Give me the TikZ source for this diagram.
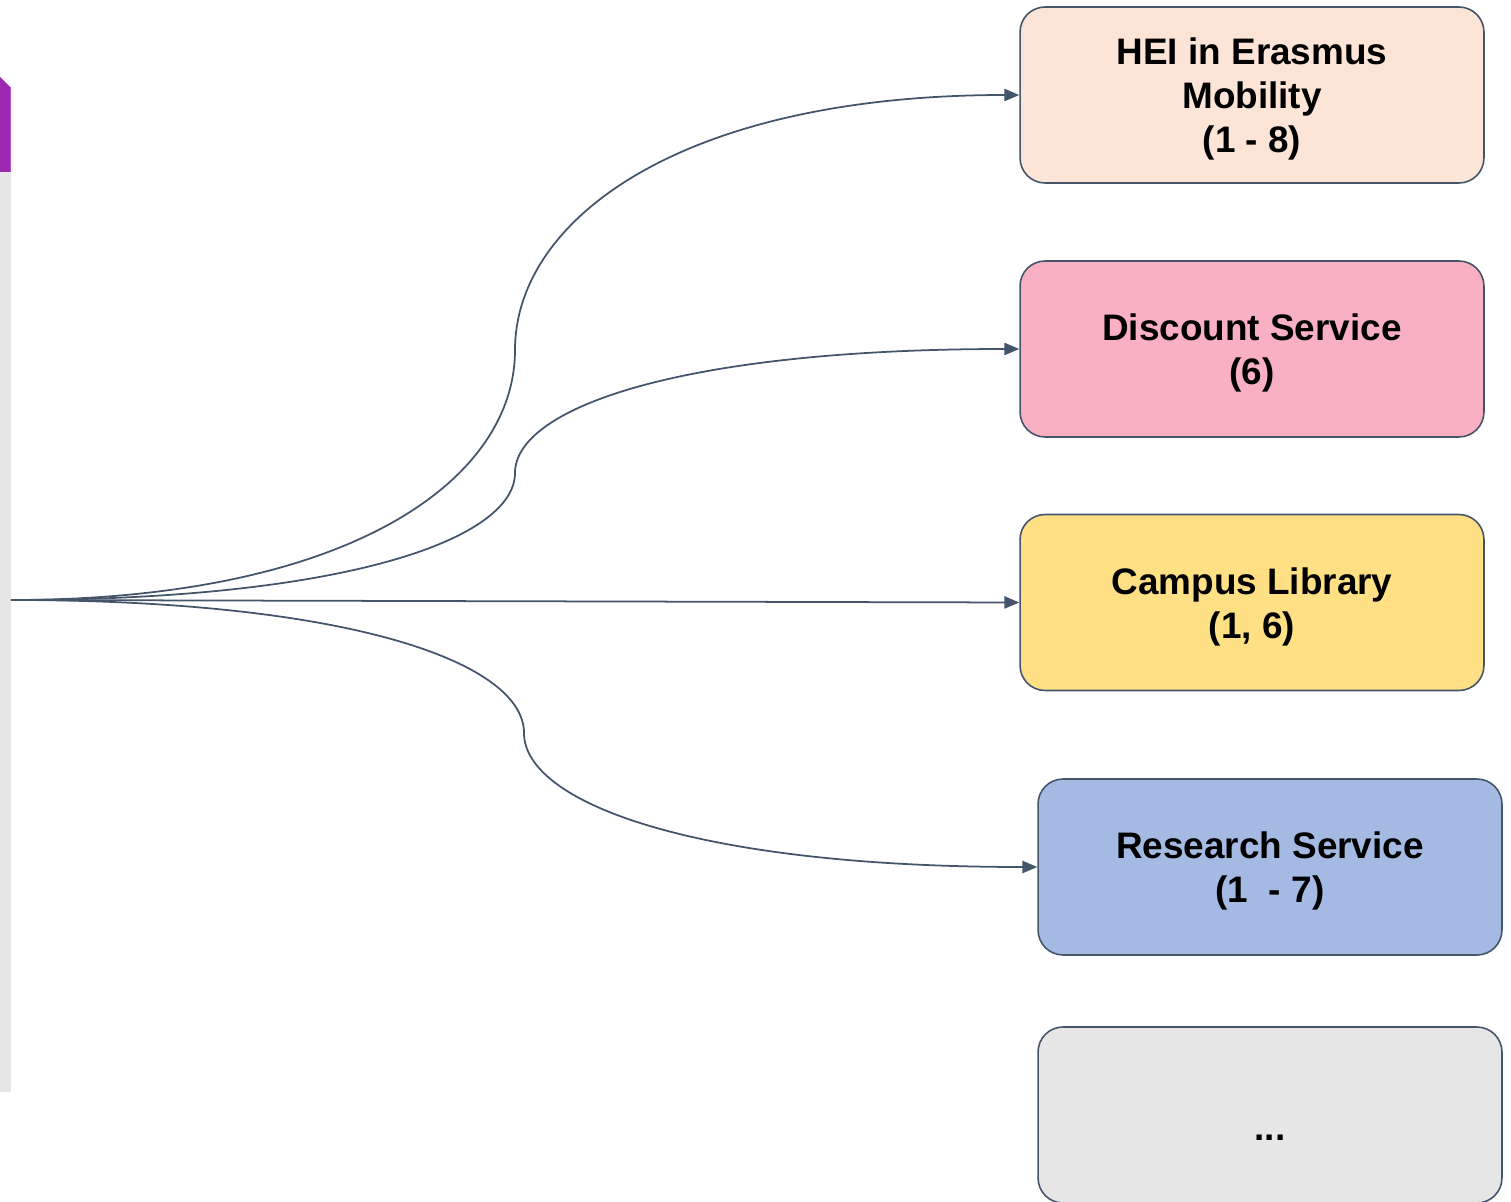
\documentclass[tikz,border=0pt]{standalone}
\usepackage{fontspec}
\setmainfont{Liberation Sans}
\usetikzlibrary{arrows.meta}
\definecolor{edge}{HTML}{44546A}
\definecolor{peach}{HTML}{FCE4D6}
\definecolor{rose}{HTML}{F8B0C2}
\definecolor{sand}{HTML}{FFE084}
\definecolor{sky}{HTML}{A4BAE2}
\definecolor{panelgray}{HTML}{E6E6E6}
\definecolor{headpurple}{HTML}{9C27B0}
\definecolor{headedge}{HTML}{B84FD0}
% text lowered a little inside the boxes
\newcommand{\boxtext}[2][-0.1cm]{\raisebox{#1}[\height][\depth]{\begin{tabular}{@{}c@{}}#2\end{tabular}}}
\tikzset{
    box/.style = {
        draw=edge,
        shape=rectangle,
        rounded corners=0.5cm,
        minimum width=9.28cm,
        minimum height=3.52cm,
        line width=0.9pt,
        font=\bfseries\fontsize{21}{25}\selectfont
    },
    link/.style = {
        draw=edge,
        line width=1pt,
        ->
    },
    >={Triangle[length=8.5pt,width=7pt]},
}

\begin{document}
\begin{tikzpicture}[x=0.02cm, y=-0.02cm]
            \useasboundingbox (0,0) rectangle (1511,1202);

            % side panel
            \fill[panelgray] (0,172) rectangle (11,1092);
            \fill[headpurple] (0,77) -- (10,87) -- (10,172) -- (0,172) -- cycle;
            \fill[headedge] (10,87) rectangle (11,172);

            \node[box, fill=peach] (hei) at (1252,95) {\boxtext{HEI in Erasmus\\Mobility\\(1 - 8)}};
            \node[box, fill=rose] (disc) at (1252,349) {\boxtext{Discount Service\\(6)}};
            \node[box, fill=sand] (lib) at (1252,602.5) {\boxtext{Campus Library\\(1, 6)}};
            \node[box, fill=sky] (res) at (1270,867) {\boxtext{Research Service\\(1\ \ - 7)}};
            \node[box, fill=panelgray] (more) at (1270,1115) {\boxtext[-0.34cm]{...}};

            \coordinate (hub) at (11,600);
            \coordinate (mhei) at (515,350);
            \coordinate (mdisc) at (515,473);
            \coordinate (mres) at (524,733);

            \path[link] (hub) .. controls +(339,0) and +(0,130) .. (mhei)
                .. controls +(0,-130) and +(-339,0) .. (hei.west);
            \path[link] (hub) .. controls +(339,0) and +(0,65) .. (mdisc)
                .. controls +(0,-65) and +(-339,0) .. (disc.west);
            \path[link] (hub) -- (lib.west);
            \path[link] (hub) .. controls +(345,0) and +(0,-69) .. (mres)
                .. controls +(0,69) and +(-345,0) .. (res.west);
        \end{tikzpicture}
\end{document}
